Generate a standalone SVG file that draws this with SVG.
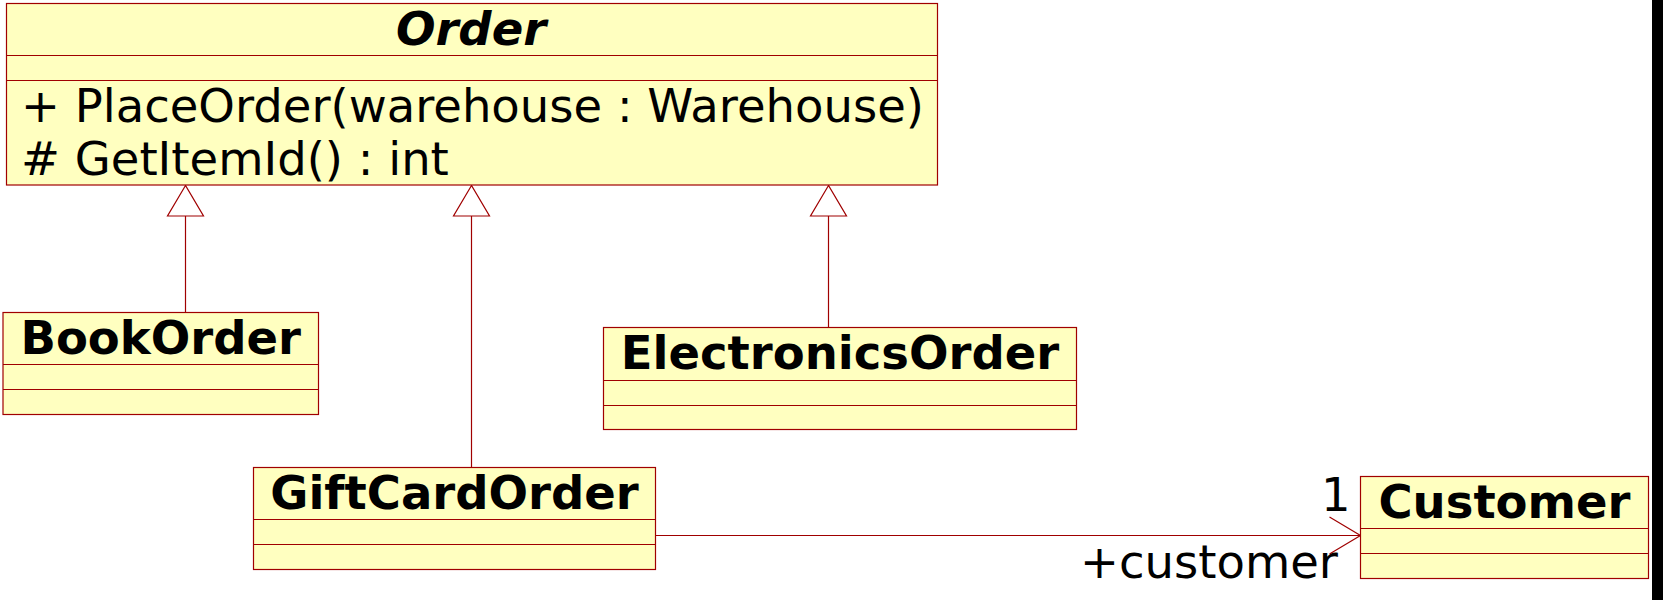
<svg xmlns="http://www.w3.org/2000/svg" width="1663" height="600" viewBox="0 0 1663 600">
<defs>
<style>
.box{fill:#FFFFC0;stroke:#A00000;stroke-width:1.2}
.ln{stroke:#A00000;stroke-width:1.2;fill:none}
.tri{fill:#FFFFFF;stroke:#A00000;stroke-width:1.2}
.title{font-family:"DejaVu Sans",sans-serif;font-size:46.5px;font-weight:bold;fill:#000;text-anchor:middle}
.abs{font-style:oblique}
.txt{font-family:"DejaVu Sans",sans-serif;font-size:46.5px;fill:#000}
</style>
</defs>
<rect x="0" y="0" width="1663" height="600" fill="#FFFFFF"/>
<rect x="1652" y="0" width="11" height="600" fill="#000000"/>

<g id="connectors">
<line class="ln" x1="185.5" y1="216" x2="185.5" y2="312.5"/>
<polygon class="tri" points="185.5,185.5 167.5,216 203.5,216"/>
<line class="ln" x1="471.5" y1="216" x2="471.5" y2="467.5"/>
<polygon class="tri" points="471.5,185.5 453.5,216 489.5,216"/>
<line class="ln" x1="828.5" y1="216" x2="828.5" y2="327.5"/>
<polygon class="tri" points="828.5,185.5 810.5,216 846.5,216"/>
<line class="ln" x1="655.5" y1="535.5" x2="1360.5" y2="535.5"/>
<polyline class="ln" points="1329.5,517 1360.5,535.5 1329.5,554"/>
<text class="txt" x="1321" y="510.5">1</text>
<text class="txt" x="1080" y="578">+customer</text>
</g>

<g id="Order">
<rect class="box" x="6.5" y="3.5" width="931" height="181.5"/>
<line class="ln" x1="6.5" y1="55.5" x2="937.5" y2="55.5"/>
<line class="ln" x1="6.5" y1="80.5" x2="937.5" y2="80.5"/>
<text class="title abs" x="471" y="45">Order</text>
<text class="txt" x="21" y="122">+ PlaceOrder(warehouse : Warehouse)</text>
<text class="txt" x="21" y="174.5"># GetItemId() : int</text>
</g>

<g id="BookOrder">
<rect class="box" x="3" y="312.5" width="315.5" height="102"/>
<line class="ln" x1="3" y1="364.5" x2="318.5" y2="364.5"/>
<line class="ln" x1="3" y1="389.5" x2="318.5" y2="389.5"/>
<text class="title" x="160.7" y="354">BookOrder</text>
</g>

<g id="ElectronicsOrder">
<rect class="box" x="603.5" y="327.5" width="473" height="102"/>
<line class="ln" x1="603.5" y1="380.5" x2="1076.5" y2="380.5"/>
<line class="ln" x1="603.5" y1="405.5" x2="1076.5" y2="405.5"/>
<text class="title" x="840" y="369">ElectronicsOrder</text>
</g>

<g id="GiftCardOrder">
<rect class="box" x="253.5" y="467.5" width="402" height="102"/>
<line class="ln" x1="253.5" y1="519.5" x2="655.5" y2="519.5"/>
<line class="ln" x1="253.5" y1="544.5" x2="655.5" y2="544.5"/>
<text class="title" x="454.5" y="509">GiftCardOrder</text>
</g>

<g id="Customer">
<rect class="box" x="1360.5" y="476.5" width="288" height="102"/>
<line class="ln" x1="1360.5" y1="528.5" x2="1648.5" y2="528.5"/>
<line class="ln" x1="1360.5" y1="553.5" x2="1648.5" y2="553.5"/>
<text class="title" x="1504.5" y="518">Customer</text>
</g>
</svg>
